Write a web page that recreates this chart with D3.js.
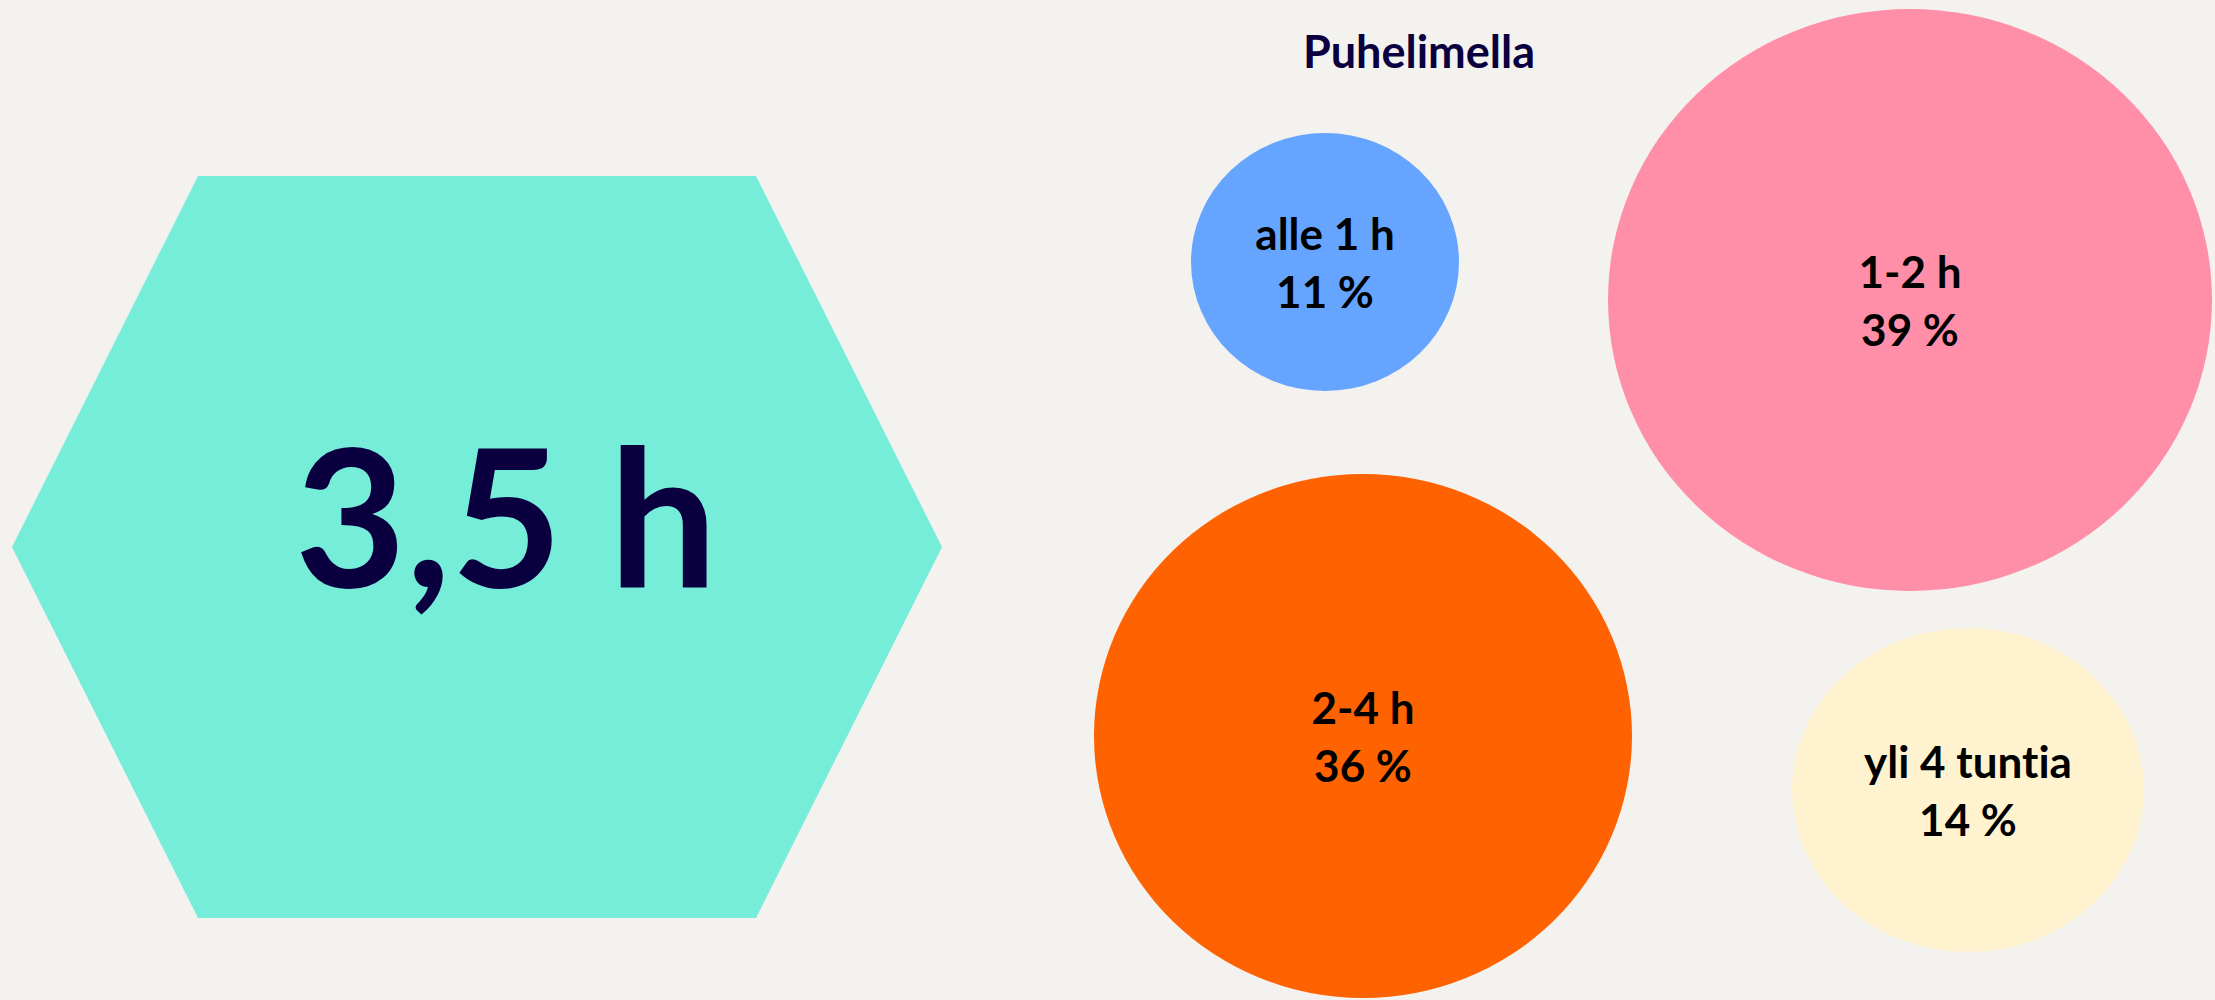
<!DOCTYPE html>
<meta charset="utf-8">
<svg width="2215" height="1000"></svg>
<script src="https://d3js.org/d3.v7.min.js"></script>
<style>
body { margin:0; background:#f3f2ee; overflow:hidden; }
svg { display:block; font-family:'Lato', 'Open Sans', sans-serif; font-weight:bold; font-variant-ligatures:none; }
</style>
<script>

// data
var title = 'Puhelimella';
var avgHours = 3.5;
var categories = ['alle 1 h', '1-2 h', '2-4 h', 'yli 4 tuntia'];
var shares = [11, 39, 36, 14];
var colors = ['#66a5ff', '#ff8fa9', '#ff6200', '#fff3cf'];

// where each bubble sits (free layout, not data)
var centers = [[1325, 262], [1910, 300], [1363, 736], [1968, 790]];

var svg = d3.select('svg');
svg.append('rect').attr('width', 2215).attr('height', 1000).attr('fill', '#f3f2ee');

var fi = d3.formatLocale({decimal: ',', thousands: ' ', grouping: [3], currency: ['', '']});

// hexagon with the average
var hx = d3.scaleLinear().domain([0, 1]).range([12, 942]);
var hy = d3.scaleLinear().domain([0, 1]).range([176, 918]);
var hexPts = [[0, 0.5], [0.2, 0], [0.8, 0], [1, 0.5], [0.8, 1], [0.2, 1]];
svg.append('path')
    .attr('d', d3.line().x(function(p) { return hx(p[0]) }).y(function(p) { return hy(p[1]) }).curve(d3.curveLinearClosed)(hexPts))
    .attr('fill', '#76edd9');
svg.append('text')
    .attr('x', 506).attr('y', 587)
    .attr('text-anchor', 'middle')
    .attr('font-size', 192)
    .attr('fill', '#0a0040')
    .attr('xml:space', 'preserve')
    .text(fi.format('.1f')(avgHours) + ' h');

// title
svg.append('text')
    .attr('x', 1419).attr('y', 68)
    .attr('text-anchor', 'middle')
    .attr('font-size', 45)
    .attr('fill', '#0a0040')
    .text(title);

// bubble sizes
var sorted = shares.slice().sort(d3.ascending);
var rx = d3.scaleLinear().domain(sorted).range([134, 176, 269, 302]);
var ry = d3.scaleLinear().domain(sorted).range([129, 162, 262, 291]);

var rows = categories.map(function(c, i) {
    return {label: c, value: shares[i], color: colors[i], cx: centers[i][0], cy: centers[i][1]};
});

var g = svg.append('g').selectAll('g')
    .data(rows)
    .enter().append('g')
    .attr('transform', function(d) { return 'translate(' + d.cx + ',' + d.cy + ')' });

g.append('ellipse')
    .attr('rx', function(d) { return rx(d.value) })
    .attr('ry', function(d) { return ry(d.value) })
    .attr('fill', function(d) { return d.color });

g.append('text')
    .attr('y', -12)
    .attr('text-anchor', 'middle')
    .attr('font-size', 44)
    .attr('fill', '#000')
    .text(function(d) { return d.label });

g.append('text')
    .attr('y', 46)
    .attr('text-anchor', 'middle')
    .attr('font-size', 44)
    .attr('fill', '#000')
    .text(function(d) { return d.value + ' %' });

</script>
